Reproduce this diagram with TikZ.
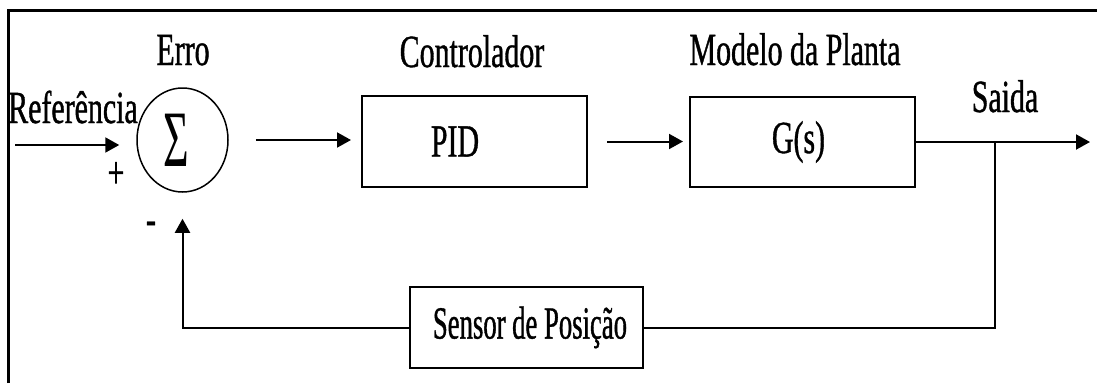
\documentclass[tikz,border=0pt]{standalone}
\usepackage{fontspec}
\setmainfont{Liberation Serif}
\newfontfamily\narrowserif[FakeStretch=0.65,FakeBold=0.8]{Liberation Serif}
\newfontfamily\sensorserif[FakeStretch=0.58,FakeBold=0.8]{Liberation Serif}
\newfontfamily\sigmaserif[FakeStretch=0.55]{Liberation Serif}
\usetikzlibrary{arrows.meta,shapes.geometric}

\tikzset{
  lbl/.style={font=\narrowserif\fontsize{46}{46}\selectfont, inner sep=0pt},
  block/.style={draw, line width=2pt, inner sep=0pt},
  wire/.style={line width=2pt},
  arr/.style={wire, -{Triangle[length=14pt,width=15pt]}},
}

\begin{document}
\begin{tikzpicture}[x=1pt,y=-1pt]
\useasboundingbox (0,0) rectangle (1097,383);

% outer frame (left and top edges)
\draw[line width=3pt] (8,383) -- (8,10) -- (1097,10);

% summing junction
\node[ellipse, draw, line width=1.5pt, minimum width=91pt, minimum height=104pt, inner sep=0pt]
  (sum) at (182.5,140) {\sigmaserif\fontsize{80}{80}\selectfont\hspace*{-13pt}Σ};

% blocks
\node[block, lbl, minimum width=225pt, minimum height=91pt] (pid) at (474.5,141.5) {\hspace*{-39pt}PID};
\node[block, lbl, minimum width=225pt, minimum height=90pt] (plant) at (802.5,142) {\hspace*{-8pt}G(s)};
\node[block, minimum width=233pt, minimum height=81pt, inner sep=0pt,
      font=\sensorserif\fontsize{46}{46}\selectfont] (sensor) at (526.5,327.5) {\hspace*{7pt}Sensor de Posição};

% labels
\node[lbl, anchor=base] (erro) at (183,65) {Erro};
\node[lbl, anchor=base] (ctrl) at (472,67) {Controlador};
\node[lbl, anchor=base] (plantlbl) at (795,65) {Modelo da Planta};
\node[lbl, anchor=base] (saida) at (1005,112) {Saida};
\node[lbl, anchor=base] (ref) at (73,123) {Referência};
\node[lbl] (plus) at (116,175) {+};
\node[lbl] (minus) at (151,228) {-};

% signal path
\coordinate (in) at (15,145);
\coordinate (out) at (1090,142);
\coordinate (branch) at (995,142);
\draw[arr, shorten >=17pt] (in) -- (in -| sum.west);
\draw[arr, shorten <=27pt, shorten >=10pt] (sum.east) -- (sum.east -| pid.west);
\draw[arr, shorten <=19pt, shorten >=6pt] (pid.east) -- (pid.east -| plant.west);
\draw[arr] (plant.east) -- (out);

% feedback path
\draw[wire] (branch) |- (sensor.east);
\draw[arr, shorten >=26pt] (sensor.west) -| (sum.south);
\end{tikzpicture}
\end{document}
